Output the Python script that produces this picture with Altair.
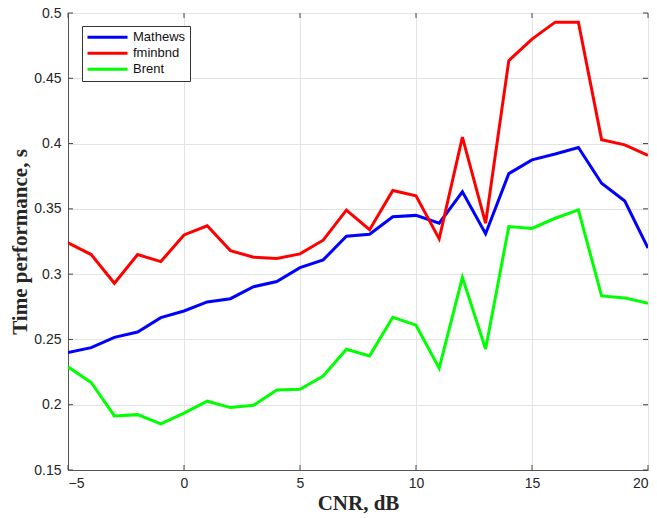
import altair as alt
import pandas as pd

cnr = list(range(-5, 21))
mathews = [0.240, 0.2437, 0.2516, 0.2557, 0.2667, 0.2718, 0.2787, 0.2812, 0.2904, 0.2943,
           0.305, 0.3109, 0.329, 0.3305, 0.344, 0.345, 0.339, 0.363, 0.331, 0.377,
           0.3875, 0.392, 0.397, 0.3696, 0.356, 0.320]
fminbnd = [0.324, 0.315, 0.293, 0.315, 0.3096, 0.330, 0.337, 0.318, 0.313, 0.312,
           0.3155, 0.326, 0.349, 0.334, 0.364, 0.360, 0.327, 0.405, 0.339, 0.4635,
           0.480, 0.493, 0.493, 0.403, 0.399, 0.391]
brent = [0.229, 0.217, 0.1914, 0.1924, 0.1853, 0.1935, 0.2027, 0.1978, 0.1996, 0.2113,
         0.2118, 0.222, 0.2425, 0.2374, 0.267, 0.2609, 0.228, 0.2976, 0.2427, 0.3364,
         0.335, 0.3428, 0.3492, 0.2833, 0.2818, 0.2777]

series_names = ["Mathews", "fminbnd", "Brent"]
series_colors = ["#0000ff", "#ff0000", "#00ff00"]
x_ticks = [-5, 0, 5, 10, 15, 20]
y_ticks = [0.15, 0.2, 0.25, 0.3, 0.35, 0.4, 0.45, 0.5]

rows = []
for name, vals in zip(series_names, [mathews, fminbnd, brent]):
    for x, v in zip(cnr, vals):
        rows.append({"CNR": x, "value": v, "series": name})
df = pd.DataFrame(rows)

W, H = 580, 457
xs = alt.Scale(domain=[-5, 20], nice=False, zero=False)
ys = alt.Scale(domain=[0.15, 0.5], nice=False, zero=False)

ax_style = dict(titleFont="Liberation Serif", titleFontSize=21, titleFontWeight="bold",
                titleColor="#262626", labelFont="Liberation Sans", labelFontSize=14,
                labelColor="#262626", domainColor="#555", gridColor="#e3e3e3",
                gridWidth=1, tickSize=0, grid=True)

lines = alt.Chart(df).mark_line(strokeWidth=3, clip=True).encode(
    x=alt.X("CNR:Q", scale=xs,
            axis=alt.Axis(title="CNR, dB", values=x_ticks, labelPadding=6,
                          titlePadding=2, **ax_style)),
    y=alt.Y("value:Q", scale=ys,
            axis=alt.Axis(title="Time performance, s", values=y_ticks,
                          labelPadding=7, titlePadding=3,
                          labelExpr="format(datum.value, '.2~f')", **ax_style)),
    color=alt.Color("series:N",
                    scale=alt.Scale(domain=series_names, range=series_colors),
                    legend=alt.Legend(title=None, orient="none", legendX=14, legendY=13,
                                      symbolType="stroke", symbolSize=1600,
                                      symbolStrokeWidth=3, labelFontSize=13,
                                      labelFont="Liberation Sans", labelColor="#111",
                                      strokeColor="#333", fillColor="white",
                                      padding=4, rowPadding=1, labelOffset=4,
                                      clipHeight=14.5)),
    detail="series:N",
)

xt = pd.DataFrame({"t": x_ticks})
yt = pd.DataFrame({"t": y_ticks})
tick_b = alt.Chart(xt).mark_rule(color="#444").encode(
    x=alt.X("t:Q", scale=xs), y=alt.value(H), y2=alt.value(H - 5))
tick_t = alt.Chart(xt).mark_rule(color="#444").encode(
    x=alt.X("t:Q", scale=xs), y=alt.value(0), y2=alt.value(5))
tick_l = alt.Chart(yt).mark_rule(color="#444").encode(
    y=alt.Y("t:Q", scale=ys), x=alt.value(0), x2=alt.value(5))
tick_r = alt.Chart(yt).mark_rule(color="#444").encode(
    y=alt.Y("t:Q", scale=ys), x=alt.value(W - 5), x2=alt.value(W))

chart = alt.layer(lines, tick_b, tick_t, tick_l, tick_r).properties(
    width=W, height=H,
    autosize=alt.AutoSizeParams(type="none"),
    padding={"left": 68, "top": 13, "right": 9, "bottom": 48},
).configure_view(
    stroke="#555", strokeWidth=1.2
).configure(background="white")

chart.save("out.html", embed_options={"renderer": "svg", "actions": False})
